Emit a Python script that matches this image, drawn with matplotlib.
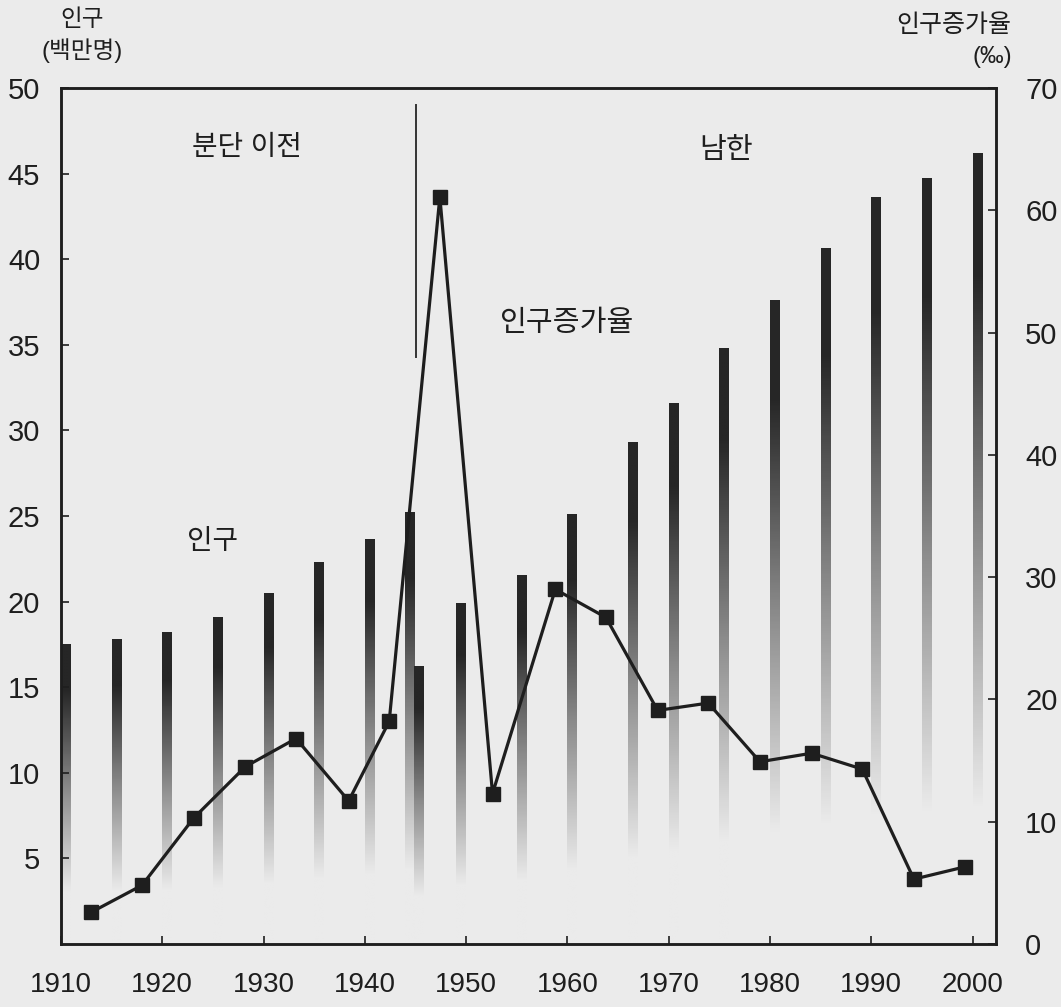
import matplotlib
matplotlib.use('Agg')
import matplotlib.pyplot as plt
from matplotlib.colors import LinearSegmentedColormap
import numpy as np

plt.rcParams['font.family'] = ['Liberation Sans', 'Noto Sans CJK KR', 'DejaVu Sans']

# 인구 (백만명) - census bars (left edge year, height)
bar_years = [1910, 1915, 1920, 1925, 1930, 1935, 1940, 1944, 1944.8, 1949,
             1955, 1960, 1966, 1970, 1975, 1980, 1985, 1990, 1995, 2000]
population = [17.5, 17.8, 18.2, 19.1, 20.5, 22.3, 23.6, 25.2, 16.2, 19.9,
              21.5, 25.1, 29.3, 31.6, 34.8, 37.6, 40.6, 43.6, 44.7, 46.2]

# 인구증가율 (‰)
rate_years = [1913, 1918, 1923.1, 1928.2, 1933.2, 1938.4, 1942.4, 1947.4, 1952.6,
              1958.8, 1963.8, 1968.9, 1973.9, 1979, 1984.1, 1989.1, 1994.2, 1999.2]
growth_rate = [2.6, 4.8, 10.3, 14.5, 16.8, 11.7, 18.2, 61.1, 12.3,
               29.0, 26.7, 19.1, 19.7, 14.9, 15.6, 14.3, 5.3, 6.3]

left_ticks = [5, 10, 15, 20, 25, 30, 35, 40, 45, 50]
right_ticks = [0, 10, 20, 30, 40, 50, 60, 70]
year_ticks = list(range(1910, 2001, 10))

bg = '#ebebeb'
ink = '#1e1e1e'

fig = plt.figure(figsize=(10.61, 10.07), dpi=100, facecolor=bg)
ax = fig.add_axes([0.0575, 0.0626, 0.8812, 0.85])
ax.set_facecolor(bg)

# gradient bars: dark at the top, fading out towards the bottom
cmap = LinearSegmentedColormap.from_list('fade', [bg, '#8c8c8c', '#262626'])
t = np.linspace(0, 1, 200)
shade = np.clip((t - 0.17) / 0.68, 0, 1)[:, None]
bar_w = 0.95
for x0, h in zip(bar_years, population):
    ax.imshow(shade, extent=[x0, x0 + bar_w, 0, h], origin='lower', aspect='auto',
              cmap=cmap, vmin=0, vmax=1, zorder=1, interpolation='bilinear')

ax.set_xlim(1910, 2002.3)
ax.set_ylim(0, 50)
ax.set_xticks(year_ticks)
ax.set_yticks(left_ticks)
ax.tick_params(axis='x', direction='in', length=6, width=1.2, labelsize=20, pad=20, colors=ink)
ax.tick_params(axis='y', direction='in', length=6, width=1.2, labelsize=21, pad=15, colors=ink)
for s in ax.spines.values():
    s.set_linewidth(1.8)
    s.set_color(ink)

# 분단 경계선
ax.plot([1945, 1945], [34.3, 49.0], color='#333333', lw=1.4, zorder=3)

ax2 = ax.twinx()
ax2.plot(rate_years, growth_rate, color=ink, lw=2.3, marker='s', markersize=10,
         markerfacecolor=ink, markeredgecolor=ink, zorder=5)
ax2.set_ylim(0, 70)
ax2.set_yticks(right_ticks)
ax2.tick_params(axis='y', direction='in', length=6, width=1.2, labelsize=21, pad=21, colors=ink)
for s in ax2.spines.values():
    s.set_linewidth(1.8)
    s.set_color(ink)

# annotations
ax.text(1928.3, 46.5, '분단 이전', fontsize=20, ha='center', va='center', color=ink)
ax.text(1975.7, 46.4, '남한', fontsize=21, ha='center', va='center', color=ink)
ax.text(1960.0, 36.3, '인구증가율', fontsize=21, ha='center', va='center', color=ink)
ax.text(1925.0, 23.5, '인구', fontsize=20, ha='center', va='center', color=ink)

fig.text(0.0773, 0.980, '인구', fontsize=17, ha='center', va='center', color=ink)
fig.text(0.0773, 0.950, '(백만명)', fontsize=17, ha='center', va='center', color=ink)
fig.text(0.899, 0.975, '인구증가율', fontsize=18, ha='center', va='center', color=ink)
fig.text(0.935, 0.943, '(‰)', fontsize=17, ha='center', va='center', color=ink)

fig.savefig('out.png', dpi=100, facecolor=bg)
